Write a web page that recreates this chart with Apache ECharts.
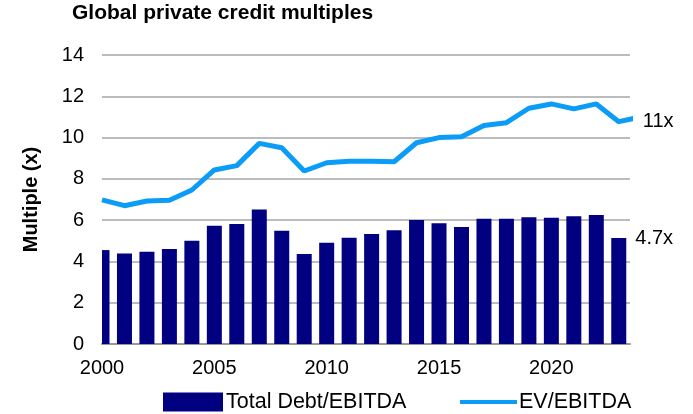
<!DOCTYPE html>
<html>
<head>
<meta charset="utf-8">
<style>
  html, body { margin: 0; padding: 0; background: #fff; }
  #container { width: 693px; height: 414px; }
</style>
<script src="https://cdn.jsdelivr.net/npm/echarts@6.0.0/dist/echarts.min.js"></script>
</head>
<body>
<div id="container"></div>
<script>
// years on the axis (2024 runs past the right edge, as in the source)
var years = [2000, 2001, 2002, 2003, 2004, 2005, 2006, 2007, 2008, 2009, 2010, 2011, 2012,
             2013, 2014, 2015, 2016, 2017, 2018, 2019, 2020, 2021, 2022, 2023, 2024];
var debtEbitda = [4.55, 4.39, 4.47, 4.60, 5.00, 5.73, 5.81, 6.52, 5.49, 4.36, 4.91, 5.15, 5.33,
                  5.51, 6.01, 5.85, 5.67, 6.07, 6.07, 6.14, 6.12, 6.19, 6.25, 5.14, 4.7];
var evEbitda = [6.98, 6.70, 6.93, 6.96, 7.46, 8.43, 8.64, 9.72, 9.51, 8.38, 8.78, 8.85, 8.85,
                8.83, 9.75, 10.0, 10.04, 10.58, 10.72, 11.42, 11.63, 11.39, 11.63, 10.77, 11.0];
var seriesNames = ['Total Debt/EBITDA', 'EV/EBITDA'];

var font = 'Liberation Sans, Arial, sans-serif';
var barColor = '#000080';
var lineColor = '#0b9cf8';
var labelIdx = years.length - 2;   // callouts sit beside the last full year
var lastDebt = debtEbitda[debtEbitda.length - 1];
var lastEv = evEbitda[evEbitda.length - 1];

var barData = years.map(function (y, i) { return [y, debtEbitda[i]]; });

var lineData = years.map(function (y, i) {
    var item = { value: [y, evEbitda[i]] };
    if (i === labelIdx) {
        item.label = {
            show: true,
            position: 'right',
            distance: 24,
            formatter: function () { return lastEv + 'x'; },
            color: '#000',
            fontSize: 20,
            fontFamily: font
        };
    }
    return item;
});

// bars drawn by hand so they get clipped at the plot edges like the original
function renderBar(params, api) {
    var x = api.value(0);
    var top = api.coord([x, api.value(1)]);
    var base = api.coord([x, 0]);
    var w = 15;
    var cs = params.coordSys;
    var rect = echarts.graphic.clipRectByRect(
        { x: top[0] - w / 2, y: top[1], width: w, height: base[1] - top[1] },
        { x: cs.x, y: cs.y, width: cs.width, height: cs.height }
    );
    if (!rect || rect.width <= 0) return null;
    var children = [{ type: 'rect', shape: rect, style: { fill: barColor } }];
    if (params.dataIndex === labelIdx) {
        children.push({
            type: 'text',
            style: {
                text: lastDebt + 'x',
                x: top[0] + w / 2 + 9,
                y: top[1] + 1,
                align: 'left',
                verticalAlign: 'middle',
                fill: '#000',
                fontSize: 20,
                fontFamily: font
            }
        });
    }
    return { type: 'group', children: children };
}

var myChart = echarts.init(document.getElementById('container'));
var option = {
    animation: false,
    textStyle: { fontFamily: font },
    title: {
        text: 'Global private credit multiples',
        left: 72,
        top: 3,
        padding: 0,
        textStyle: { fontSize: 21, fontWeight: 'bold', color: '#000', fontFamily: font }
    },
    legend: [{
        data: [seriesNames[0]],
        left: 163,
        top: 391,
        padding: 0,
        icon: 'rect',
        itemWidth: 60,
        itemHeight: 19,
        itemStyle: { color: barColor },
        textStyle: { fontSize: 21.5, color: '#000', fontFamily: font, padding: [0, 0, 0, -2] }
    }, {
        data: [seriesNames[1]],
        left: 460,
        top: 391,
        padding: 0,
        icon: 'rect',
        itemWidth: 57,
        itemHeight: 4,
        textStyle: { fontSize: 21.5, color: '#000', fontFamily: font, padding: [0, 0, 0, -3] }
    }],
    grid: { left: 102, right: 63, top: 55, bottom: 70, containLabel: false },
    xAxis: {
        type: 'value',
        min: 2000,
        max: 2023.5,
        interval: 5,
        axisLine: { show: true, onZero: false, lineStyle: { color: '#999', width: 2 } },
        axisTick: { show: false },
        splitLine: { show: false },
        axisLabel: {
            showMaxLabel: false,
            margin: 14,
            fontSize: 20,
            color: '#000',
            formatter: function (v) { return String(v); }
        }
    },
    yAxis: {
        type: 'value',
        min: 0,
        max: 14,
        interval: 2,
        name: 'Multiple (x)',
        nameLocation: 'middle',
        nameRotate: 90,
        nameGap: 61,
        nameTextStyle: { fontSize: 20, fontWeight: 'bold', color: '#000' },
        axisLine: { show: false },
        axisTick: { show: false },
        splitLine: { lineStyle: { color: '#a6a6a6', width: 1.5 } },
        axisLabel: { margin: 18, fontSize: 20, color: '#000' }
    },
    series: [{
        name: seriesNames[0],
        type: 'custom',
        renderItem: renderBar,
        encode: { x: 0, y: 1 },
        itemStyle: { color: barColor },
        data: barData
    }, {
        name: seriesNames[1],
        type: 'line',
        clip: true,
        showSymbol: true,
        symbol: 'circle',
        symbolSize: 0,
        lineStyle: { color: lineColor, width: 5 },
        itemStyle: { color: lineColor },
        data: lineData
    }]
};
myChart.setOption(option);
</script>
</body>
</html>
